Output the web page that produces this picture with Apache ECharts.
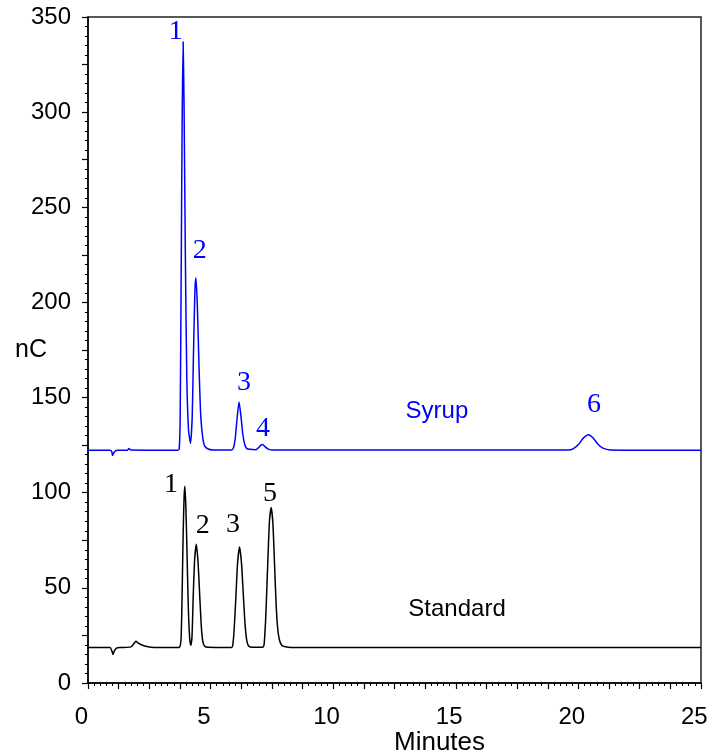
<!DOCTYPE html>
<html>
<head>
<meta charset="utf-8">
<script src="https://cdn.jsdelivr.net/npm/echarts@6/dist/echarts.min.js"></script>
<style>
  html, body { margin: 0; padding: 0; background: #fff; }
  #chart { width: 714px; height: 756px; }
</style>
</head>
<body>
<div id="chart"></div>
<script>
// 轴刻度
const xTickLabels = [0, 5, 10, 15, 20, 25];
const yTickLabels = [0, 50, 100, 150, 200, 250, 300, 350];

// Syrup 色谱 [分钟, nC]
const syrupTrace = [
    [0, 122.3], [0.9, 122.3], [0.97, 121.5], [1.0, 119.5], [1.05, 121], [1.12, 122], [1.2, 122.3],
    [1.6, 122.3], [1.67, 123.2], [1.75, 122.4], [3.65, 122.3], [3.72, 123],
    [3.76, 140], [3.80, 215], [3.84, 295], [3.88, 337], [3.92, 300], [3.97, 225], [4.03, 160],
    [4.10, 133], [4.18, 126], [4.25, 140], [4.30, 172], [4.36, 206], [4.40, 213], [4.46, 198],
    [4.53, 165], [4.60, 140], [4.68, 129], [4.76, 124.5], [4.9, 123], [5.1, 122.5],
    [5.85, 122.4], [5.93, 123.5], [6.0, 128], [6.08, 139], [6.16, 147.7], [6.24, 140],
    [6.31, 131], [6.39, 125.5], [6.47, 123.3], [6.6, 122.8], [6.85, 122.6], [6.95, 123.6],
    [7.05, 125], [7.12, 125.3], [7.22, 124.2], [7.35, 122.9], [7.5, 122.5],
    [19.6, 122.4], [19.8, 123.2], [20.0, 125.3], [20.2, 128.7], [20.41, 130.5], [20.6, 128.8],
    [20.8, 125.5], [21.0, 123.4], [21.3, 122.5], [25, 122.3]
];

// Standard 色谱 [分钟, nC]
const standardTrace = [
    [0, 18.6], [0.9, 18.6], [0.97, 17], [1.02, 15], [1.08, 17], [1.15, 18.2], [1.3, 18.6],
    [1.75, 19], [1.88, 20.8], [1.95, 21.9], [2.05, 21], [2.2, 20], [2.4, 19.2], [2.7, 18.7],
    [3.7, 18.6], [3.76, 19.5], [3.80, 24], [3.84, 48], [3.88, 78], [3.92, 98], [3.95, 103.4],
    [3.99, 93], [4.03, 73], [4.06, 56], [4.10, 36], [4.15, 23], [4.19, 19.8],
    [4.24, 24], [4.29, 45], [4.35, 65], [4.42, 72.9], [4.49, 63], [4.56, 45], [4.62, 30],
    [4.68, 22], [4.75, 19.5], [4.9, 18.8], [5.85, 18.7], [5.90, 19.5], [5.96, 28], [6.03, 45],
    [6.10, 63], [6.18, 71.5], [6.26, 63], [6.34, 45], [6.41, 30], [6.48, 22], [6.56, 19.3],
    [6.7, 18.8], [7.12, 18.8], [7.18, 20], [7.24, 32], [7.28, 45], [7.34, 66], [7.40, 85],
    [7.47, 92.2], [7.54, 84], [7.60, 65], [7.66, 45], [7.72, 31], [7.80, 23], [7.9, 19.8],
    [8.05, 19], [8.3, 18.7], [25, 18.6]
];

// 峰号标注
const syrupPeakLabels = [
    { name: '1', value: [3.58, 342.5] },
    { name: '2', value: [4.56, 227.4] },
    { name: '3', value: [6.36, 158] },
    { name: '4', value: [7.14, 133.8] },
    { name: '6', value: [20.64, 146.5] }
];
const standardPeakLabels = [
    { name: '1', value: [3.38, 104.4] },
    { name: '2', value: [4.68, 82.9] },
    { name: '3', value: [5.91, 83.4] },
    { name: '5', value: [7.42, 99.7] }
];
const traceNames = [
    { name: 'Syrup', value: [14.23, 142.8], color: '#0000ff' },
    { name: 'Standard', value: [15.05, 38.7], color: '#000000' }
];

const chart = echarts.init(document.getElementById('chart'));

// 只显示文字的散点系列
function textSeries(data, font, size) {
    return {
        type: 'scatter',
        data: data,
        symbolSize: 1,
        itemStyle: { color: 'transparent', opacity: 1 },
        silent: true,
        label: {
            show: true,
            position: 'inside',
            formatter: p => p.name,
            fontFamily: font,
            fontSize: size,
            opacity: 1
        },
        z: 5
    };
}

chart.setOption({
    animation: false,
    grid: {
        left: 88, right: 13, top: 17, bottom: 73,
        outerBoundsMode: 'none',
        containLabel: false,
        show: true,
        borderColor: '#222',
        borderWidth: 1.5
    },
    xAxis: {
        type: 'value',
        min: 0,
        max: 25,
        interval: 1.25,
        name: 'Minutes',
        nameLocation: 'middle',
        nameGap: 47,
        nameMoveOverlap: false,
        nameTextStyle: { fontFamily: 'Liberation Sans', fontSize: 26, color: '#000', padding: [0, 0, 0, 90] },
        axisLine: { lineStyle: { color: '#000', width: 1.5 } },
        axisTick: { show: true, length: 6, lineStyle: { color: '#000', width: 1.2 } },
        minorTick: { show: true, splitNumber: 5, length: 3, lineStyle: { color: '#000', width: 1 } },
        splitLine: { show: false },
        axisLabel: {
            fontFamily: 'Liberation Sans',
            fontSize: 24,
            color: '#000',
            margin: 22,
            formatter: v => (xTickLabels.indexOf(v) >= 0 ? v + '  ' : '')
        }
    },
    yAxis: {
        type: 'value',
        min: 0,
        max: 350,
        interval: 25,
        name: 'nC',
        nameLocation: 'middle',
        nameRotate: 0,
        nameGap: 41,
        nameMoveOverlap: false,
        nameTextStyle: { fontFamily: 'Liberation Sans', fontSize: 25, color: '#000' },
        axisLine: { show: true, lineStyle: { color: '#000', width: 1.5 } },
        axisTick: { show: true, length: 6, lineStyle: { color: '#000', width: 1.2 } },
        minorTick: { show: true, splitNumber: 5, length: 3, lineStyle: { color: '#000', width: 1 } },
        splitLine: { show: false },
        axisLabel: {
            fontFamily: 'Liberation Sans',
            fontSize: 24,
            color: '#000',
            margin: 17,
            formatter: v => (yTickLabels.indexOf(v) >= 0 ? String(v) : '')
        }
    },
    series: [
        {
            name: 'Syrup',
            type: 'line',
            data: syrupTrace,
            showSymbol: false,
            smooth: 0.2,
            lineStyle: { color: '#0000ff', width: 1.5 },
            z: 3
        },
        {
            name: 'Standard',
            type: 'line',
            data: standardTrace,
            showSymbol: false,
            smooth: 0.2,
            lineStyle: { color: '#000', width: 1.5 },
            z: 3
        },
        textSeries(syrupPeakLabels.map(d => ({ ...d, label: { color: '#0000ff' } })), 'Liberation Serif', 28),
        textSeries(standardPeakLabels.map(d => ({ ...d, label: { color: '#000' } })), 'Liberation Serif', 28),
        textSeries(traceNames.map(d => ({ name: d.name, value: d.value, label: { color: d.color } })), 'Liberation Sans', 24)
    ]
});
</script>
</body>
</html>
